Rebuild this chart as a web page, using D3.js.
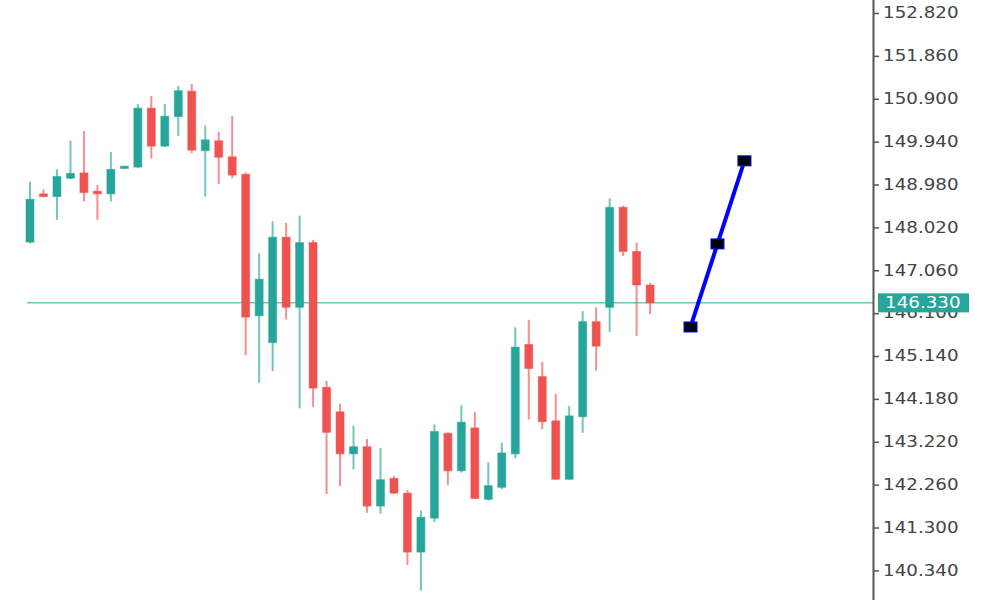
<!DOCTYPE html>
<html>
<head>
<meta charset="utf-8">
<script src="https://cdn.jsdelivr.net/npm/d3@7"></script>
<style>
  html, body { margin: 0; padding: 0; background: #ffffff; }
  svg { display: block; }
</style>
</head>
<body>
<svg id="chart" width="1000" height="600"></svg>
<script>
// ---- data ----
const opens  = [147.69,148.77,148.71,149.12,149.24,148.83,148.77,149.34,149.37,150.69,
                149.84,150.50,151.07,149.74,149.96,149.60,149.21,146.04,145.44,147.80,
                146.23,147.68,144.44,143.89,142.95,143.11,141.78,142.40,142.07,140.75,
                141.51,143.41,142.57,143.53,141.93,142.20,142.95,145.40,144.68,143.69,
                142.38,143.78,145.91,146.23,148.47,147.48,146.73];
const highs  = [149.04,148.87,149.32,149.96,150.18,148.97,149.71,149.40,150.78,150.96,
                150.78,151.19,151.23,150.30,150.16,150.51,149.25,147.44,148.16,148.12,
                148.28,147.74,144.58,144.07,143.58,143.28,143.08,142.45,142.14,141.68,
                143.61,143.43,144.04,143.89,142.76,143.20,145.78,145.95,145.01,144.29,
                144.02,146.15,146.23,148.67,148.50,147.68,146.78];
const lows   = [147.66,148.70,148.19,149.10,148.60,148.19,148.60,149.33,149.35,149.56,
                149.82,150.07,149.68,148.71,148.99,149.12,145.16,144.54,144.80,145.96,
                143.97,144.00,142.05,142.23,142.60,141.63,141.61,142.05,140.46,139.89,
                141.42,142.25,142.53,141.95,141.90,142.16,142.85,143.72,143.50,142.37,
                142.37,143.42,144.81,145.68,147.38,145.59,146.08];
const closes = [148.65,148.71,149.16,149.23,148.80,148.77,149.32,149.39,150.69,149.84,
                150.51,151.08,149.75,149.98,149.59,149.19,146.01,146.86,147.80,146.23,
                147.68,144.42,143.43,142.95,143.11,141.78,142.37,142.07,140.75,141.53,
                143.45,142.57,143.66,141.95,142.24,142.97,145.34,144.86,143.67,142.38,
                143.80,145.91,145.36,148.47,147.48,146.73,146.33];
const forecastIndex  = [49, 51, 53];
const forecastValues = [145.79, 147.65, 149.51];
const currentPrice = 146.330;
const tickValues = [152.820,151.860,150.900,149.940,148.980,148.020,147.060,
                    146.100,145.140,144.180,143.220,142.260,141.300,140.340];

const candles = opens.map((o, i) => ({ i, o, h: highs[i], l: lows[i], c: closes[i] }));

// ---- scales ----
const svg = d3.select("#chart");
const x = d3.scaleLinear().domain([0, 53]).range([30, 30 + 53 * 13.48]);
const y = d3.scaleLinear().domain([152.82, 140.34]).range([13, 570.4]);

const UP = "#26a69a", DOWN = "#ef5350";
const bodyW = 8;

// current price line
svg.append("line")
  .attr("x1", 27).attr("x2", 873)
  .attr("y1", y(currentPrice)).attr("y2", y(currentPrice))
  .attr("stroke", "#6cc7bd").attr("stroke-width", 1.5);

// candles
const g = svg.append("g");
const cg = g.selectAll("g.c").data(candles).join("g").attr("class", "c");
cg.append("line")
  .attr("x1", d => x(d.i)).attr("x2", d => x(d.i))
  .attr("y1", d => y(d.h)).attr("y2", d => y(d.l))
  .attr("stroke", d => d.c >= d.o ? UP : DOWN)
  .attr("stroke-opacity", 0.65)
  .attr("stroke-width", 2);
cg.append("rect")
  .attr("x", d => x(d.i) - bodyW / 2)
  .attr("width", bodyW)
  .attr("y", d => y(Math.max(d.o, d.c)))
  .attr("height", d => Math.max(2, Math.abs(y(d.o) - y(d.c))))
  .attr("fill", d => d.c >= d.o ? UP : DOWN)
  .attr("stroke", d => d.c >= d.o ? UP : DOWN)
  .attr("stroke-opacity", 0.5)
  .attr("stroke-width", 1);

// forecast line
const fdata = forecastIndex.map((fi, k) => ({ i: fi, v: forecastValues[k] }));
svg.append("path")
  .datum(fdata)
  .attr("d", d3.line().x(d => x(d.i)).y(d => y(d.v)))
  .attr("fill", "none")
  .attr("stroke", "#0000ff")
  .attr("stroke-width", 4);
svg.selectAll("rect.fp").data(fdata).join("rect")
  .attr("class", "fp")
  .attr("x", d => x(d.i) - 6.5).attr("y", d => y(d.v) - 5)
  .attr("width", 13).attr("height", 10)
  .attr("fill", "#000000")
  .attr("stroke", "#0000ff").attr("stroke-width", 1);

// axis
const axis = d3.axisRight(y).tickValues(tickValues).tickSize(6).tickPadding(0)
  .tickFormat(d3.format(".3f"));
const ag = svg.append("g").attr("transform", "translate(873,0)").call(axis);
ag.select(".domain").remove();
ag.selectAll(".tick line").attr("stroke", "#555").attr("stroke-width", 1.5);
ag.selectAll(".tick text")
  .attr("x", 0)
  .attr("fill", "#444")
  .style("font-family", "'DejaVu Sans', Verdana, sans-serif")
  .style("font-size", "15px")
  .attr("transform", "translate(10,0) scale(1.22,1)");
svg.append("line")
  .attr("x1", 873.5).attr("x2", 873.5).attr("y1", 0).attr("y2", 600)
  .attr("stroke", "#555").attr("stroke-width", 2);

// price label
const py = y(currentPrice);
svg.append("rect")
  .attr("x", 878).attr("y", py - 9.5)
  .attr("width", 91).attr("height", 19)
  .attr("fill", UP);
svg.append("text")
  .attr("x", 0).attr("y", 0)
  .attr("transform", `translate(885,${py}) scale(1.22,1)`)
  .attr("dy", "0.35em")
  .attr("fill", "#ffffff")
  .style("font-family", "'DejaVu Sans', Verdana, sans-serif")
  .style("font-size", "15px")
  .text(d3.format(".3f")(currentPrice));
</script>
</body>
</html>
